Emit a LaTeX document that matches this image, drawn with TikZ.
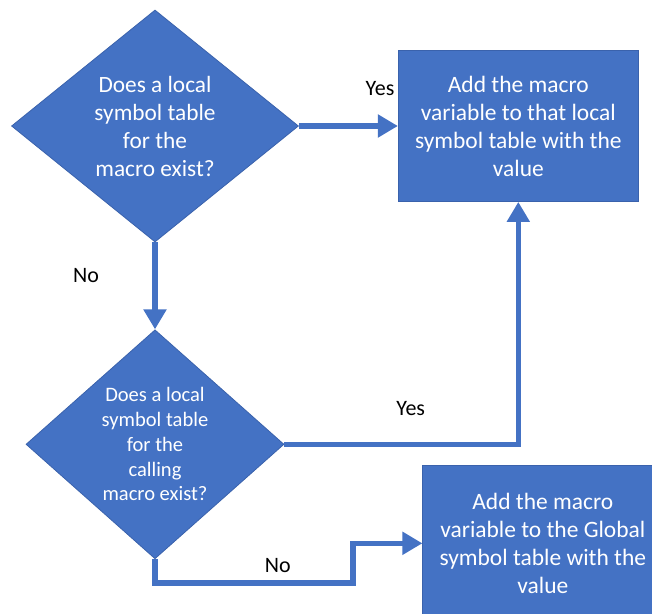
\documentclass[tikz,border=0pt]{standalone}
\usepackage{fontspec}
\setmainfont{Carlito}
\usepackage{tikz}
\usetikzlibrary{positioning,shapes.geometric,arrows.meta}

\definecolor{flowblue}{HTML}{4472C4}
\definecolor{flowedge}{HTML}{3A62AC}

\tikzset{
    decision/.style={diamond, fill=flowblue, draw=flowedge, line width=0.6pt, text=white, inner sep=0pt, align=center, font=\fontsize{17.5}{21}\selectfont},
    action/.style={rectangle, fill=flowblue, draw=flowedge, line width=0.6pt, text=white, inner sep=0pt, align=center, font=\fontsize{17.6}{21}\selectfont},
    flow/.style={draw=flowblue, line width=4.2pt, -{Triangle[length=15pt, width=16.5pt]}},
    answer/.style={text=black, inner sep=0pt, font=\fontsize{16.5}{20}\selectfont},
}

\begin{document}
\begin{tikzpicture}[x=0.75pt, y=-0.75pt]
    \useasboundingbox (0,0) rectangle (652,613);

    \node [decision, minimum width=215.25pt, minimum height=174pt] (dia1) at (155,126) {Does a local\\symbol table\\for the\\macro exist?};
    \node [action, minimum width=180pt, minimum height=113.25pt, right=74.25pt of dia1] (box1) {Add the macro\\variable to that local\\symbol table with the\\value};

    % calling macro
    \node [decision, minimum width=193.5pt, minimum height=171.75pt, font=\fontsize{15.4}{18.6}\selectfont, below=65.25pt of dia1] (dia2) {Does a local\\symbol table\\for the\\calling\\macro exist?};
    \node [action, minimum width=180pt, minimum height=117pt, right=103.5pt of dia2, yshift=-74.25pt] (box2) {Add the macro\\variable to the Global\\symbol table with the\\value};

    \coordinate (jog) at (353,583);

    \draw [flow] (dia1) -- node [answer, pos=0.82, above=21pt] {Yes} (box1);
    \draw [flow] (dia1) -- node [answer, pos=0.38, left=40pt] {No} (dia2);
    \draw [flow] (dia2) -| node [answer, pos=0.27, above=19.5pt] {Yes} (box1);
    \draw [flow] (dia2) |- node [answer, pos=0.81, above=6pt] {No} (jog) |- (box2);
\end{tikzpicture}
\end{document}
